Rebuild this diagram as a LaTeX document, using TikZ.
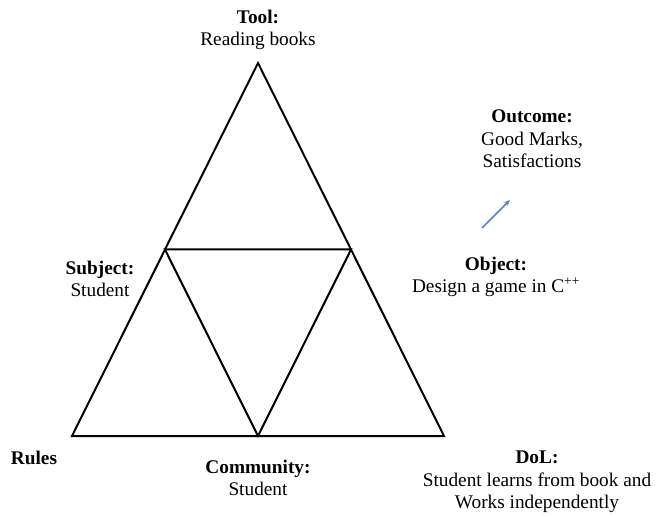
\documentclass[tikz,border=0pt]{standalone}
\usepackage{fontspec}
\setmainfont{Liberation Serif}
\usetikzlibrary{arrows.meta}
\definecolor{arrowblue}{HTML}{5B7FBF}
\begin{document}
\begin{tikzpicture}[x=1pt,y=-1pt,
  lab/.style={align=center,inner sep=0pt,font=\fontsize{19.3}{22.5}\selectfont},
  edge/.style={line width=2pt,line join=miter}]
\useasboundingbox (0,0) rectangle (657,516);
\coordinate (A) at (258,63);
\coordinate (B) at (72,436);
\coordinate (C) at (444,436);
\coordinate (L) at (165,249.5);
\coordinate (R) at (351,249.5);
\coordinate (M) at (258,436);
\draw[edge] (A) -- (B) -- (C) -- cycle;
\draw[edge] (L) -- (R) -- (M) -- cycle;
\node[lab] (tool) at (258,30) {\textbf{Tool:}\\Reading books};
\node[lab] (outcome) at (532,139) {\textbf{Outcome:}\\Good Marks,\\Satisfactions};
\node[lab] (subject) at (100,279) {\textbf{Subject:}\\Student};
\node[lab] (object) at (496,277) {\textbf{Object:}\\Design a game in C\textsuperscript{++}};
\node[lab] (rules) at (34,458) {\textbf{Rules}};
\node[lab] (community) at (258,478) {\textbf{Community:}\\Student};
\node[lab] (dol) at (537,482) {\textbf{DoL:}\\Student learns from book and\\Works independently};
\coordinate (a1) at (482,228);
\coordinate (a2) at (510,200);
\draw[arrowblue,line width=1.5pt,-{Stealth[length=6pt,width=5pt]}] (a1) -- (a2);
\end{tikzpicture}
\end{document}
